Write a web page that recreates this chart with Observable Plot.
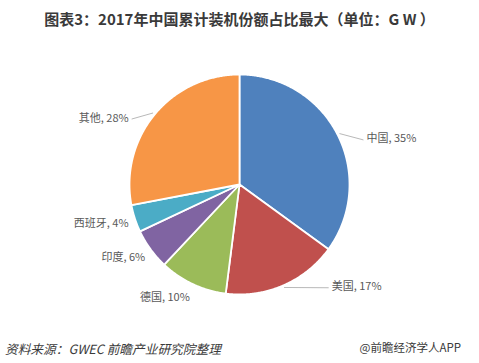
<!DOCTYPE html>
<html>
<head>
<meta charset="utf-8">
<script src="https://cdn.jsdelivr.net/npm/d3@7"></script>
<script src="https://cdn.jsdelivr.net/npm/@observablehq/plot@0.6"></script>
<style>
  html, body { margin: 0; padding: 0; background: #fff; }
  body { width: 479px; height: 363px; overflow: hidden; font-family: "Noto Sans CJK SC", "Noto Sans", sans-serif; }
  #title { height: 36px; line-height: 37px; text-align: center; font-size: 15px; font-weight: bold; color: #3a3a3a; white-space: nowrap; }
  #foot { position: relative; height: 31px; }
  #src { position: absolute; left: 5px; top: 7px; font-size: 12.7px; font-style: italic; color: #3a3a3a; white-space: nowrap; }
  #brand { position: absolute; right: 18px; top: 7px; font-size: 11.5px; color: #3a3a3a; white-space: nowrap; }
  svg { display: block; }
</style>
</head>
<body>
<div id="title">图表3：2017年中国累计装机份额占比最大（单位：G W ）</div>
<div id="chart"></div>
<div id="foot"><span id="src">资料来源：GWEC 前瞻产业研究院整理</span><span id="brand">@前瞻经济学人APP</span></div>
<script>
const names = ["中国", "美国", "德国", "印度", "西班牙", "其他"];
const shares = [35, 17, 10, 6, 4, 28];
const colors = ["#4F81BD", "#C0504D", "#9BBB59", "#8064A2", "#4BACC6", "#F79646"];

const total = d3.sum(shares);
const rad = Math.PI / 180;
const PX = 1 / 110; // one pixel in data units (radius = 1)

// slice polygons
const slicePts = [];
const labels = [];
let acc = 0;
names.forEach((name, i) => {
  const a0 = acc / total * 360;
  acc += shares[i];
  const a1 = acc / total * 360;
  slicePts.push({name, color: colors[i], x: 0, y: 0});
  const steps = Math.max(2, Math.ceil((a1 - a0) / 0.5));
  for (let k = 0; k <= steps; k++) {
    const a = (a0 + (a1 - a0) * k / steps) * rad;
    slicePts.push({name, color: colors[i], x: Math.sin(a), y: Math.cos(a)});
  }
  const mid = (a0 + a1) / 2;
  const lead = shares[i] >= 15;
  const right = Math.sin(mid * rad) > 0;
  const th = lead ? (right ? 90 + (mid - 90) * 0.7 : 270 + (mid - 270) * 0.75) : mid;
  const r = lead ? (right ? 1.22 : 1.16) : 1.06;
  const ax = r * Math.sin(th * rad), ay = r * Math.cos(th * rad);
  const ty = ay + Math.cos(th * rad) * (lead ? 6.5 : 8) * PX;
  labels.push({
    label: `${name}, ${shares[i]}%`, right: Math.sin(th * rad) > 0, lead,
    x: ax, y: ty,
    x1: 1.02 * Math.sin(mid * rad), y1: 1.02 * Math.cos(mid * rad),
    x2: ax + (Math.sin(th * rad) > 0 ? -3 : 3) * PX, y2: ty - 1 * PX
  });
});

const font = "'Noto Sans CJK SC', 'Noto Sans', sans-serif";
const chart = Plot.plot({
  width: 479,
  height: 296,
  marginLeft: 129,
  marginRight: 130,
  marginTop: 38,
  marginBottom: 38,
  x: {domain: [-1, 1], axis: null},
  y: {domain: [-1, 1], axis: null},
  color: {type: "identity"},
  style: {background: "#fff", fontFamily: font},
  marks: [
    Plot.line(slicePts, {x: "x", y: "y", z: "name", fill: "color", stroke: "#fff", strokeWidth: 1.8, strokeLinejoin: "round", curve: "linear-closed"}),
    Plot.link(labels.filter(d => d.lead), {x1: "x1", y1: "y1", x2: "x2", y2: "y2", stroke: "#a6a6a6", strokeWidth: 0.8}),
    Plot.text(labels.filter(d => d.right), {x: "x", y: "y", text: "label", textAnchor: "start", fontSize: 11, fill: "#595959", fontFamily: font}),
    Plot.text(labels.filter(d => !d.right), {x: "x", y: "y", text: "label", textAnchor: "end", fontSize: 11, fill: "#595959", fontFamily: font})
  ]
});
document.getElementById("chart").appendChild(chart);
</script>
</body>
</html>
